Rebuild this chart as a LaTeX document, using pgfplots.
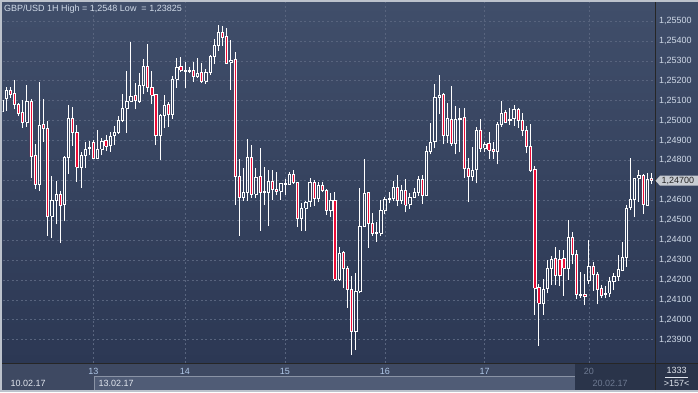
\documentclass[border=0pt]{standalone}
\usepackage{pgfplots}
\pgfplotsset{compat=1.18}
\usepackage{pgfplotstable}
\usepackage{fontspec}
\setmainfont{Liberation Sans}

\definecolor{bgtop}{RGB}{64,78,106}
\definecolor{bgbot}{RGB}{44,56,84}
\definecolor{gridc}{RGB}{88,100,126}
\definecolor{bandc}{RGB}{62,73,98}
\definecolor{datebox}{RGB}{80,92,118}
\definecolor{overlayc}{RGB}{42,52,74}
\definecolor{framec}{RGB}{188,194,204}
\definecolor{labc}{RGB}{208,218,232}
\definecolor{dayc}{RGB}{176,200,232}
\definecolor{datec}{RGB}{225,230,238}
\definecolor{dimc}{RGB}{110,122,146}
\definecolor{candlered}{RGB}{236,12,54}
\definecolor{tagc}{RGB}{200,204,210}
\newcommand\chartfont{\fontsize{9}{10.8}\selectfont}

% GBP/USD hourly candles: k open high low close
\pgfplotstableread{
k o h l c
0 1.25045 1.25108 1.24949 1.25103
1 1.25112 1.25170 1.25048 1.25150
2 1.25152 1.25170 1.25112 1.25133
3 1.25137 1.25204 1.25056 1.25082
4 1.25083 1.25090 1.25025 1.25035
5 1.25041 1.25103 1.24964 1.24991
6 1.24991 1.25179 1.24969 1.25095
7 1.25098 1.25108 1.24713 1.24819
8 1.24826 1.24881 1.24655 1.24680
9 1.24680 1.25192 1.24648 1.24978
10 1.24981 1.25108 1.24894 1.24961
11 1.24961 1.24998 1.24422 1.24519
12 1.24519 1.24722 1.24409 1.24600
13 1.24600 1.24697 1.24479 1.24630
14 1.24630 1.24646 1.24387 1.24576
15 1.24580 1.24822 1.24494 1.24815
16 1.24815 1.25078 1.24733 1.25011
17 1.25011 1.25068 1.24874 1.24941
18 1.24941 1.24978 1.24693 1.24765
19 1.24765 1.24844 1.24663 1.24827
20 1.24827 1.24892 1.24764 1.24856
21 1.24859 1.24897 1.24827 1.24866
22 1.24892 1.24902 1.24805 1.24810
23 1.24810 1.24951 1.24805 1.24856
24 1.24856 1.24911 1.24826 1.24897
25 1.24901 1.24928 1.24847 1.24871
26 1.24874 1.24941 1.24844 1.24923
27 1.24924 1.24973 1.24879 1.24943
28 1.24941 1.25023 1.24934 1.25001
29 1.25001 1.25133 1.24991 1.25061
30 1.25061 1.25249 1.24939 1.25098
31 1.25098 1.25395 1.25092 1.25123
32 1.25125 1.25187 1.25056 1.25102
33 1.25095 1.25241 1.25092 1.25179
34 1.25179 1.25309 1.25133 1.25274
35 1.25274 1.25385 1.25145 1.25167
36 1.25167 1.25249 1.25083 1.25127
37 1.25132 1.25135 1.24877 1.24924
38 1.24924 1.25033 1.24802 1.25028
39 1.25028 1.25128 1.24961 1.25078
40 1.25082 1.25095 1.24969 1.25031
41 1.25031 1.25225 1.25008 1.25207
42 1.25207 1.25313 1.25165 1.25267
43 1.25271 1.25318 1.25242 1.25252
44 1.25249 1.25294 1.25165 1.25252
45 1.25247 1.25271 1.25237 1.25252
46 1.25251 1.25294 1.25195 1.25222
47 1.25222 1.25314 1.25215 1.25237
48 1.25242 1.25287 1.25192 1.25195
49 1.25199 1.25257 1.25184 1.25242
50 1.25241 1.25329 1.25229 1.25324
51 1.25324 1.25410 1.25284 1.25380
52 1.25380 1.25480 1.25351 1.25441
53 1.25441 1.25473 1.25376 1.25418
54 1.25421 1.25463 1.25284 1.25287
55 1.25292 1.25405 1.25154 1.25301
56 1.25308 1.25343 1.24576 1.24718
57 1.24718 1.24807 1.24422 1.24615
58 1.24615 1.24760 1.24598 1.24640
59 1.24640 1.24906 1.24598 1.24815
60 1.24815 1.24877 1.24610 1.24630
61 1.24630 1.24760 1.24610 1.24715
62 1.24718 1.24861 1.24447 1.24640
63 1.24640 1.24765 1.24576 1.24643
64 1.24640 1.24754 1.24472 1.24697
65 1.24697 1.24750 1.24601 1.24655
66 1.24656 1.24740 1.24626 1.24646
67 1.24646 1.24688 1.24603 1.24685
68 1.24682 1.24707 1.24626 1.24685
69 1.24682 1.24740 1.24677 1.24730
70 1.24730 1.24752 1.24685 1.24688
71 1.24688 1.24693 1.24467 1.24509
72 1.24509 1.24588 1.24447 1.24559
73 1.24559 1.24598 1.24447 1.24591
74 1.24593 1.24710 1.24568 1.24690
75 1.24690 1.24702 1.24573 1.24610
76 1.24610 1.24693 1.24590 1.24673
77 1.24673 1.24693 1.24640 1.24648
78 1.24650 1.24656 1.24526 1.24548
79 1.24548 1.24635 1.24518 1.24600
80 1.24600 1.24643 1.24195 1.24205
81 1.24205 1.24364 1.24196 1.24333
82 1.24339 1.24345 1.24158 1.24258
83 1.24258 1.24272 1.24061 1.24154
84 1.24154 1.24220 1.23825 1.23940
85 1.23940 1.24233 1.23848 1.24144
86 1.24144 1.24663 1.24133 1.24471
87 1.24471 1.24807 1.24464 1.24635
88 1.24640 1.24643 1.24362 1.24484
89 1.24484 1.24534 1.24422 1.24434
90 1.24434 1.24492 1.24392 1.24439
91 1.24434 1.24601 1.24422 1.24549
92 1.24549 1.24618 1.24529 1.24606
93 1.24606 1.24643 1.24585 1.24611
94 1.24608 1.24697 1.24598 1.24665
95 1.24665 1.24727 1.24571 1.24600
96 1.24600 1.24677 1.24581 1.24651
97 1.24651 1.24707 1.24539 1.24574
98 1.24580 1.24638 1.24556 1.24615
99 1.24615 1.24663 1.24613 1.24640
100 1.24640 1.24723 1.24623 1.24705
101 1.24705 1.24727 1.24580 1.24625
102 1.24625 1.24874 1.24621 1.24847
103 1.24847 1.24986 1.24830 1.24891
104 1.24894 1.25184 1.24861 1.25117
105 1.25117 1.25229 1.25031 1.25128
106 1.25132 1.25140 1.24881 1.24924
107 1.24924 1.25087 1.24886 1.25011
108 1.25006 1.25175 1.24874 1.24886
109 1.24886 1.25075 1.24830 1.25006
110 1.25005 1.25065 1.24841 1.25011
111 1.25016 1.25065 1.24713 1.24760
112 1.24760 1.24810 1.24590 1.24718
113 1.24718 1.24869 1.24698 1.24750
114 1.24755 1.24966 1.24685 1.24953
115 1.24953 1.25008 1.24841 1.24861
116 1.24861 1.24894 1.24844 1.24882
117 1.24886 1.24944 1.24805 1.24851
118 1.24857 1.24894 1.24807 1.24844
119 1.24844 1.24995 1.24780 1.24981
120 1.24984 1.25098 1.24969 1.25035
121 1.25041 1.25053 1.24988 1.24993
122 1.25000 1.25061 1.24978 1.25006
123 1.25010 1.25078 1.24974 1.25056
124 1.25056 1.25061 1.24964 1.25001
125 1.25001 1.25040 1.24924 1.24951
126 1.24951 1.24973 1.24836 1.24872
127 1.24872 1.24983 1.24744 1.24749
128 1.24757 1.24774 1.24024 1.24158
129 1.24163 1.24180 1.23870 1.24082
130 1.24082 1.24203 1.24024 1.24153
131 1.24158 1.24300 1.24133 1.24258
132 1.24258 1.24322 1.24174 1.24303
133 1.24308 1.24364 1.24174 1.24225
134 1.24303 1.24350 1.24171 1.24221
135 1.24308 1.24350 1.24121 1.24258
136 1.24258 1.24501 1.24200 1.24414
137 1.24414 1.24442 1.24278 1.24328
138 1.24328 1.24350 1.24104 1.24128
139 1.24124 1.24238 1.24111 1.24128
140 1.24128 1.24228 1.24074 1.24116
141 1.24196 1.24400 1.24178 1.24270
142 1.24270 1.24292 1.24146 1.24228
143 1.24228 1.24241 1.24077 1.24153
144 1.24158 1.24174 1.24108 1.24124
145 1.24128 1.24169 1.24108 1.24133
146 1.24133 1.24216 1.24116 1.24191
147 1.24191 1.24233 1.24149 1.24216
148 1.24216 1.24325 1.24196 1.24253
149 1.24250 1.24389 1.24245 1.24313
150 1.24313 1.24576 1.24267 1.24559
151 1.24563 1.24810 1.24551 1.24605
152 1.24605 1.24713 1.24514 1.24710
153 1.24710 1.24752 1.24593 1.24725
154 1.24725 1.24730 1.24531 1.24580
155 1.24576 1.24735 1.24573 1.24705
156 1.24710 1.24735 1.24682 1.24698
}\ohlc

\begin{document}
\begin{tikzpicture}[x=1pt,y=1pt]
% backgrounds
\fill[bandc] (0,0) rectangle (698,29);
\shade[top color=bgtop, bottom color=bgbot] (0,29) rectangle (698,392);
\fill[datebox] (94,2) rectangle (698,15);
\draw[gridc!70!white, line width=0.6pt] (94,15.3) -- (575,15.3);
\draw[gridc!70!white, line width=0.6pt] (94.3,2) -- (94.3,15.3);
\fill[overlayc] (575,2) rectangle (698,29);

\begin{axis}[
  at={(2.7pt,29pt)}, anchor=south west,
  width=652.3pt, height=361pt, scale only axis,
  xmin=0.216, xmax=156.9,
  ymin=1.237829, ymax=1.255954,
  axis line style={draw=none},
  axis background/.style={top color=bgtop, bottom color=bgbot},
  tick style={draw=none}, major tick length=0pt,
  xtick={22,44,68,92,116,141},
  xticklabels={13,14,15,16,17,\textcolor{dimc}{20}},
  xticklabel style={anchor=base, yshift=-11.8pt, text=dayc, font=\chartfont},
  ytick={1.239,1.240,1.241,1.242,1.243,1.244,1.245,1.246,1.247,1.248,1.249,1.250,1.251,1.252,1.253,1.254,1.255},
  yticklabels={{1,23900},{1,24000},{1,24100},{1,24200},{1,24300},{1,24400},{1,24500},{1,24600},{},{1,24800},{1,24900},{1,25000},{1,25100},{1,25200},{1,25300},{1,25400},{1,25500}},
  yticklabel pos=right,
  yticklabel style={anchor=west, inner sep=0pt, xshift=4pt, text=labc, font=\chartfont},
  grid=major,
  major grid style={gridc, dash pattern=on 2pt off 2.5pt, line width=0.6pt},
]
\pgfplotsforeachungrouped \i in {0,...,156}{%
  \pgfplotstablegetelem{\i}{o}\of\ohlc \let\vo\pgfplotsretval
  \pgfplotstablegetelem{\i}{h}\of\ohlc \let\vh\pgfplotsretval
  \pgfplotstablegetelem{\i}{l}\of\ohlc \let\vl\pgfplotsretval
  \pgfplotstablegetelem{\i}{c}\of\ohlc \let\vc\pgfplotsretval
  \pgfmathsetmacro\xa{\i-0.27}%
  \pgfmathsetmacro\xb{\i+0.27}%
  \ifdim\vc pt<\vo pt
    \let\vlo\vc \let\vhi\vo \def\bfill{candlered}%
  \else
    \let\vlo\vo \let\vhi\vc \def\bfill{none}%
  \fi
  \edef\cmd{%
    \noexpand\addplot[draw=white, line width=0.75pt] coordinates {(\i,\vl) (\i,\vlo)};
    \noexpand\addplot[draw=white, line width=0.75pt] coordinates {(\i,\vhi) (\i,\vh)};
    \noexpand\addplot[draw=white, fill=\bfill, line width=0.55pt, line join=miter]
      coordinates {(\xa,\vlo) (\xb,\vlo) (\xb,\vhi) (\xa,\vhi) (\xa,\vlo)};
  }%
  \cmd
}
\end{axis}

% frame lines
\draw[black!85, line width=1pt] (0,29) -- (698,29);
\draw[black!85, line width=1pt] (655,0) -- (655,392);
\fill[framec] (0,0) rectangle (2,392);
\fill[framec] (0,390) rectangle (698,392);
\fill[framec] (0,0) rectangle (698,2);

% title
\node[anchor=base west, inner sep=0pt, text=labc, font=\chartfont] at (4,381) {GBP/USD 1H High = 1,2548 Low\ \ = 1,23825};

% price tag
\fill[tagc] (655.5,211.3) -- (660,216.3) -- (698,216.3) -- (698,206.3) -- (660,206.3) -- cycle;
\node[anchor=west, inner sep=0pt, text=black!85, font=\chartfont] at (661.5,211.3) {1,24700};

% date row
\node[anchor=base west, inner sep=0pt, text=datec, font=\chartfont] at (10.5,6) {10.02.17};
\node[anchor=base west, inner sep=0pt, text=datec, font=\chartfont] at (98.5,6) {13.02.17};
\node[anchor=base west, inner sep=0pt, text=dimc, font=\chartfont] at (592.3,6) {20.02.17};

% bottom-right info
\node[anchor=base, inner sep=0pt, text=datec, font=\chartfont] at (676.5,18.3) {1333};
\draw[datec, line width=0.6pt] (665,14.7) -- (688,14.7);
\node[anchor=base, inner sep=0pt, text=datec, font=\chartfont] at (676.7,5.3) {>157<};

\pgfresetboundingbox
\path[use as bounding box] (0,0) rectangle (698,392);
\end{tikzpicture}
\end{document}
